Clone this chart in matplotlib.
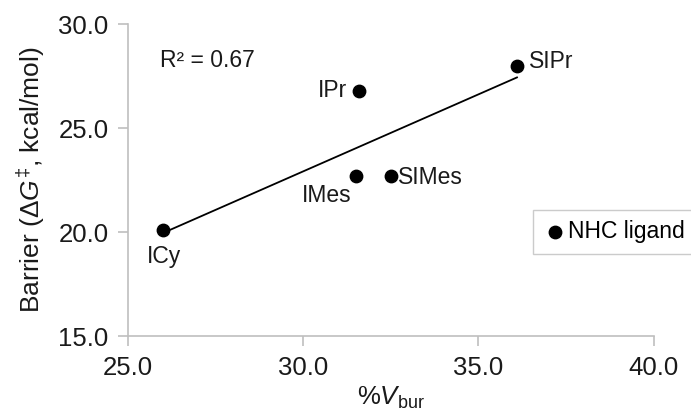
import numpy as np
import matplotlib
matplotlib.use("Agg")
import matplotlib.pyplot as plt

plt.rcParams['font.family'] = ['Liberation Sans', 'DejaVu Sans']
plt.rcParams['mathtext.fontset'] = 'custom'
plt.rcParams['mathtext.rm'] = 'Liberation Sans'
plt.rcParams['mathtext.it'] = 'Liberation Sans:italic'
plt.rcParams['mathtext.bf'] = 'Liberation Sans:bold'

# %V_bur and barrier for each NHC ligand
ligands = ['ICy', 'IPr', 'IMes', 'SIMes', 'SIPr']
vbur = [26.0, 31.6, 31.5, 32.5, 36.1]
barrier = [20.1, 26.8, 22.7, 22.7, 28.0]
r2_label = 'R² = 0.67'

xticks = [25.0, 30.0, 35.0, 40.0]
yticks = [15.0, 20.0, 25.0, 30.0]

fig = plt.figure(figsize=(6.91, 4.16), dpi=100)
ax = fig.add_axes([0.185, 0.192, 0.761, 0.750])

sc = ax.scatter(vbur, barrier, s=80, color='black', zorder=3, label='NHC ligand')

# linear trend line across the data range
slope, intercept = np.polyfit(vbur, barrier, 1)
xs = np.array([min(vbur), max(vbur)])
ax.plot(xs, slope * xs + intercept, color='black', lw=1.3, zorder=2)

# point labels: offsets in points and alignment
label_pos = {
    'ICy':   ((1, -11), 'center', 'top'),
    'IPr':   ((-9, 0), 'right', 'center'),
    'IMes':  ((-3, -6), 'right', 'top'),
    'SIMes': ((5, -1), 'left', 'center'),
    'SIPr':  ((9, 3), 'left', 'center'),
}
for name, x, y in zip(ligands, vbur, barrier):
    off, ha, va = label_pos[name]
    ax.annotate(name, (x, y), xytext=off, textcoords='offset points',
                ha=ha, va=va, fontsize=16.5, color='#1a1a1a')

ax.text(25.93, 28.27, r2_label, fontsize=16.5, color='#1a1a1a', ha='left', va='center')

ax.set_xlim(25, 40)
ax.set_ylim(15, 30)
ax.set_xticks(xticks)
ax.set_yticks(yticks)
ax.set_xticklabels([f'{t:.1f}' for t in xticks])
ax.set_yticklabels([f'{t:.1f}' for t in yticks])
ax.tick_params(axis='both', labelsize=18.5, length=7, width=1.2,
               color='#BFBFBF', labelcolor='#1a1a1a', direction='out', pad=7)

for side in ['top', 'right']:
    ax.spines[side].set_visible(False)
for side in ['left', 'bottom']:
    ax.spines[side].set_color('#BFBFBF')
    ax.spines[side].set_linewidth(1.2)

ax.set_xlabel(r'%$\mathit{V}_{\mathrm{bur}}$', fontsize=18.5, color='#1a1a1a', labelpad=4)
ax.set_ylabel('Barrier (Δ$\\mathit{G}^{‡}$, kcal/mol)', fontsize=19, color='#1a1a1a', labelpad=8)

leg = fig.legend(handles=[sc], labels=['NHC ligand'], loc='center left',
                 bbox_to_anchor=(0.771, 0.443), borderaxespad=0, fontsize=16.5,
                 frameon=True, fancybox=False, edgecolor='#BFBFBF',
                 handletextpad=0.1, handlelength=1.0, borderpad=0.45)
leg.get_frame().set_linewidth(1.0)

fig.savefig('out.png', dpi=100)
